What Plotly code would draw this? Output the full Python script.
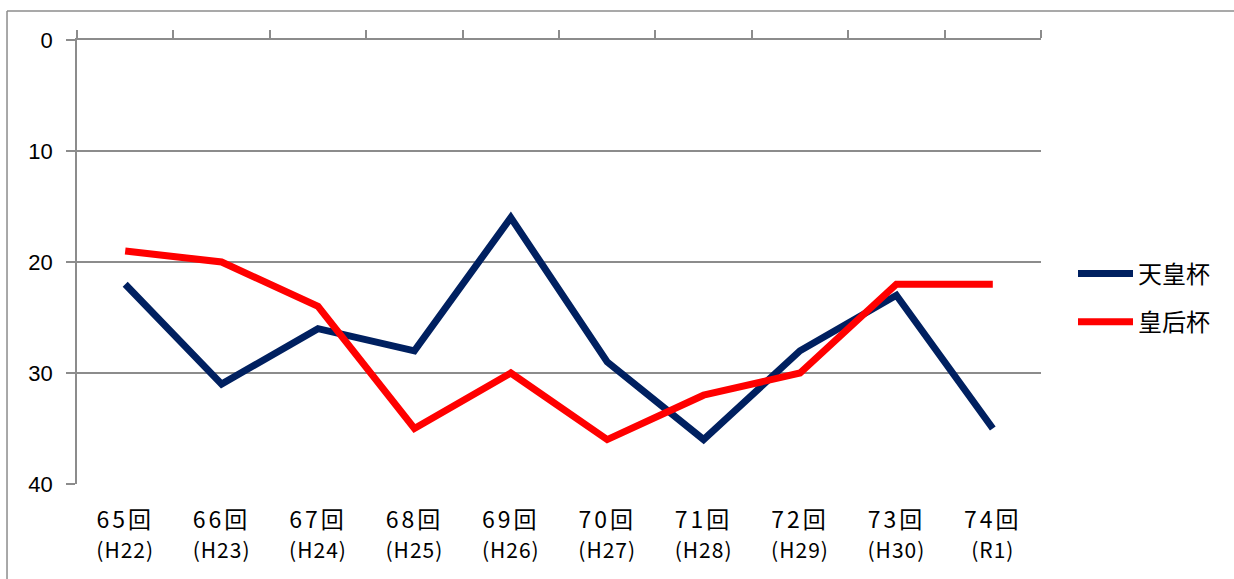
import plotly.graph_objects as go

categories = ["65回", "66回", "67回", "68回", "69回", "70回", "71回", "72回", "73回", "74回"]
eras = ["(H22)", "(H23)", "(H24)", "(H25)", "(H26)", "(H27)", "(H28)", "(H29)", "(H30)", "(R1)"]
emperor_cup = [22, 31, 26, 28, 16, 29, 36, 28, 23, 35]
empress_cup = [19, 20, 24, 35, 30, 36, 32, 30, 22, 22]
series_names = ["天皇杯", "皇后杯"]
y_ticks = [0, 10, 20, 30, 40]

ticktext = [f"<span style='letter-spacing:3px'>{c}</span><br>"
            f"<span style='font-size:21px;letter-spacing:1px'>{e}</span>"
            for c, e in zip(categories, eras)]
xpos = list(range(len(categories)))
boundaries = [i - 0.5 for i in range(len(categories) + 1)]

fig = go.Figure()
fig.add_trace(go.Scatter(x=xpos, y=emperor_cup, mode="lines", name=series_names[0],
                         legendgroup="a",
                         line=dict(color="#002060", width=7)))
fig.add_trace(go.Scatter(x=xpos, y=empress_cup, mode="lines", name=series_names[1],
                         legendgroup="b",
                         line=dict(color="#FF0000", width=7)))
# invisible trace to anchor top axis
fig.add_trace(go.Scatter(x=[boundaries[0]], y=[0], xaxis="x2", mode="markers",
                         marker=dict(opacity=0), showlegend=False, hoverinfo="skip"))

fig.update_layout(
    width=1234, height=579,
    margin=dict(l=77, r=193, t=40, b=95, autoexpand=False),
    paper_bgcolor="white", plot_bgcolor="white",
    font=dict(family="Noto Sans CJK JP", color="black"),
    xaxis=dict(
        range=[-0.5, len(categories) - 0.5],
        tickvals=xpos, ticktext=ticktext,
        showgrid=False, zeroline=False, showline=False, ticks="",
        tickfont=dict(size=23, family="Noto Sans CJK JP", color="black"),
        ticklabelstandoff=20, automargin=False,
    ),
    xaxis2=dict(
        overlaying="x", side="top",
        range=[-0.5, len(categories) - 0.5],
        tickvals=boundaries, showticklabels=False,
        ticks="outside", ticklen=8, tickcolor="#8c8c8c", tickwidth=1.5,
        showline=True, linecolor="#8c8c8c", linewidth=1.5,
        showgrid=False, zeroline=False, automargin=False,
    ),
    yaxis=dict(
        range=[40, 0], tickvals=y_ticks,
        showgrid=True, gridcolor="#8c8c8c", gridwidth=1.5,
        showline=True, linecolor="#8c8c8c", linewidth=1.5,
        ticks="outside", ticklen=9, tickcolor="#8c8c8c", tickwidth=1.5,
        zeroline=False,
        tickfont=dict(size=22, family="Liberation Sans", color="black"),
        ticklabelstandoff=9, automargin=False,
    ),
    legend=dict(
        x=(1073 - 77) / 964, y=0.524, xanchor="left", yanchor="top",
        font=dict(size=24, family="Noto Sans CJK JP", color="black"),
        traceorder="grouped", tracegroupgap=14, itemwidth=55,
        bgcolor="rgba(0,0,0,0)",
    ),
    shapes=[
        dict(type="line", xref="paper", yref="paper",
             x0=-0.0726, x1=-0.0726, y0=-0.3, y1=1.0653,
             line=dict(color="#8c8c8c", width=1.5)),
        dict(type="line", xref="paper", yref="paper",
             x0=-0.0726, x1=1.3, y0=1.0653, y1=1.0653,
             line=dict(color="#8c8c8c", width=1.5)),
    ],
    showlegend=True,
)

fig.write_html("out.html", config={"displayModeBar": False},
               post_script="document.body.style.margin='0';document.body.style.overflow='hidden';")
